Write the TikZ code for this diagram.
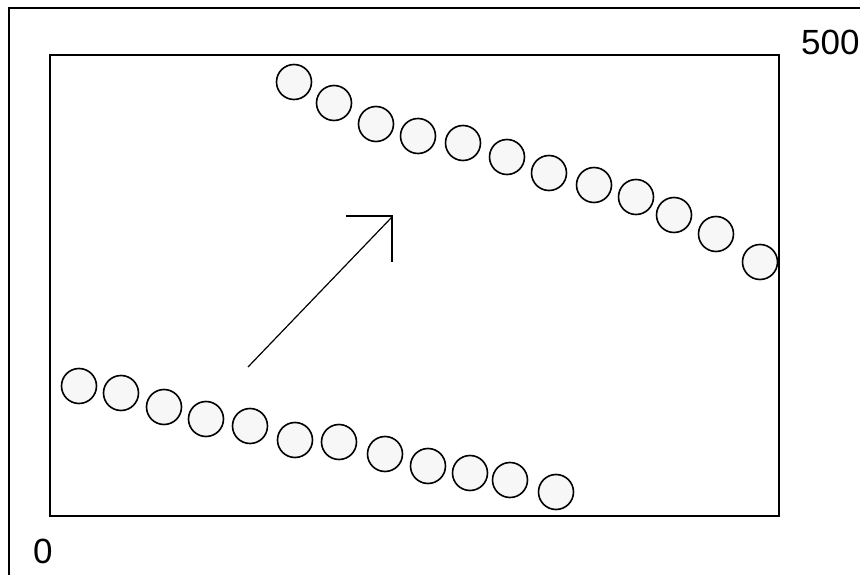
\documentclass[tikz,border=0pt]{standalone}
\usepackage{fontspec}
\setmainfont{Liberation Sans}
\begin{document}
\begin{tikzpicture}[x=1pt,y=-1pt,
  ball/.style={circle,draw=black,line width=1.6pt,fill=gray!6,minimum size=35pt,inner sep=0pt},
  frame/.style={draw=black,line width=1.7pt},
  lbl/.style={inner sep=0pt,anchor=base west,font=\fontsize{35}{35}\selectfont}]
\useasboundingbox (0,0) rectangle (860,575);
\fill[white] (0,0) rectangle (860,575);
% outer border
\draw[frame] (9,580) -- (9,8) -- (865,8);
% inner rectangle
\draw[frame] (50,55) rectangle (779,516);
% labels
\node[lbl] (t500) at (801,55) {500};
\node[lbl] (t0) at (33,563) {0};
% top row of circles
\foreach \x/\y [count=\i] in {294/82,334/103,376/124,418/136,463/143,507/157,549/173,594/185,636/197,674/215,716/234,760/262}
  \node[ball] (u\i) at (\x,\y) {};
% bottom row of circles
\foreach \x/\y [count=\i] in {79/386,121/393,164/407,206/419,250/426,295/440,339/442,385/454,428/466,470/473,510/480,556/492}
  \node[ball] (b\i) at (\x,\y) {};
% arrow
\coordinate (as) at (248,367);
\coordinate (ae) at (392,217);
\coordinate (ah1) at (346,216);
\coordinate (ah2) at (392,262);
\draw[line width=1.2pt] (as) -- (ae);
\draw[line width=1.8pt] (ah1) -- (ae |- ah1) -- (ah2);
\end{tikzpicture}
\end{document}
